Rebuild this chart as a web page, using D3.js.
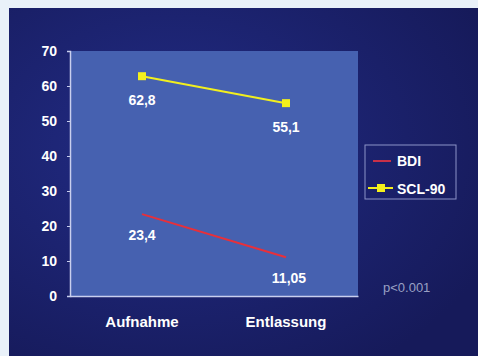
<!DOCTYPE html>
<html>
<head>
<meta charset="utf-8">
<script src="https://cdn.jsdelivr.net/npm/d3@7"></script>
<style>
  html, body { margin: 0; padding: 0; background: #e9f1f9; }
  svg { display: block; font-family: "Liberation Sans", Arial, sans-serif; }
</style>
</head>
<body>
<div id="chart"></div>
<script>
const categories = ['Aufnahme', 'Entlassung'];
const bdiValues = [23.4, 11.05];
const sclValues = [62.8, 55.1];
const bdiLabels = ['23,4', '11,05'];
const sclLabels = ['62,8', '55,1'];
const yTicks = [0, 10, 20, 30, 40, 50, 60, 70];

const w = 478;
const h = 356;

const svg = d3.select('#chart')
    .append('svg')
    .attr('width', w)
    .attr('height', h);

// light frame + dark slide background
svg.append('rect').attr('width', w).attr('height', h).attr('fill', '#e9f1f9');

const grad = svg.append('defs').append('radialGradient')
    .attr('id', 'bg').attr('cx', '35%').attr('cy', '40%').attr('r', '75%');
grad.append('stop').attr('offset', '0%').attr('stop-color', '#222c86');
grad.append('stop').attr('offset', '100%').attr('stop-color', '#161a5a');

svg.append('rect')
    .attr('x', 9).attr('y', 8)
    .attr('width', w - 9).attr('height', h - 8)
    .attr('fill', 'url(#bg)');

const plot = { left: 70, right: 358, top: 51, bottom: 296 };

const x = d3.scaleBand()
    .domain(categories)
    .range([plot.left, plot.right]);

const y = d3.scaleLinear()
    .domain([0, 70])
    .range([plot.bottom, plot.top]);

// plot area
svg.append('rect')
    .attr('x', plot.left).attr('y', plot.top)
    .attr('width', plot.right - plot.left).attr('height', plot.bottom - plot.top)
    .attr('fill', '#4661b0');

// axes
const yAxis = svg.append('g')
    .attr('transform', `translate(${plot.left},0)`)
    .call(d3.axisLeft(y).tickValues(yTicks).tickSize(3).tickPadding(10));
yAxis.select('.domain').attr('stroke', '#c9cfee').attr('stroke-width', 1.5);
yAxis.selectAll('.tick line').attr('stroke', '#c9cfee');
yAxis.selectAll('.tick text')
    .attr('fill', '#ffffff').attr('font-size', 14).attr('font-weight', 'bold')
    .attr('font-family', '"Liberation Sans", Arial, sans-serif');

const xAxis = svg.append('g')
    .attr('transform', `translate(0,${plot.bottom})`)
    .call(d3.axisBottom(x).tickSize(0).tickPadding(20));
xAxis.select('.domain').attr('stroke', '#c9cfee').attr('stroke-width', 1.5);
xAxis.selectAll('.tick text')
    .attr('fill', '#ffffff').attr('font-size', 15).attr('font-weight', 'bold')
    .attr('font-family', '"Liberation Sans", Arial, sans-serif');

const cx = (d) => x(d) + x.bandwidth() / 2;

const line = d3.line()
    .x((d) => cx(d.cat))
    .y((d) => y(d.v));

const bdi = categories.map((c, i) => ({ cat: c, v: bdiValues[i], label: bdiLabels[i] }));
const scl = categories.map((c, i) => ({ cat: c, v: sclValues[i], label: sclLabels[i] }));

// BDI line
svg.append('path')
    .datum(bdi)
    .attr('d', line)
    .attr('fill', 'none')
    .attr('stroke', '#e8303a')
    .attr('stroke-width', 2);

// SCL-90 line
svg.append('path')
    .datum(scl)
    .attr('d', line)
    .attr('fill', 'none')
    .attr('stroke', '#f2ef1e')
    .attr('stroke-width', 2);

svg.selectAll('.scl-pt')
    .data(scl)
    .enter()
    .append('rect')
    .attr('class', 'scl-pt')
    .attr('x', (d) => cx(d.cat) - 4)
    .attr('y', (d) => y(d.v) - 4)
    .attr('width', 8).attr('height', 8)
    .attr('fill', '#f4f01c');

// data labels
const labelStyle = (sel) => sel
    .attr('fill', '#ffffff')
    .attr('font-size', 14)
    .attr('font-weight', 'bold')
    .attr('text-anchor', 'middle');

svg.selectAll('.scl-lbl')
    .data(scl)
    .enter()
    .append('text')
    .attr('x', (d) => cx(d.cat))
    .attr('y', (d) => y(d.v) + 29)
    .text((d) => d.label)
    .call(labelStyle);

svg.selectAll('.bdi-lbl')
    .data(bdi)
    .enter()
    .append('text')
    .attr('x', (d, i) => cx(d.cat) + (i === 1 ? 3 : 0))
    .attr('y', (d) => y(d.v) + 26)
    .text((d) => d.label)
    .call(labelStyle);

// legend
const legend = svg.append('g').attr('transform', 'translate(365,145)');
legend.append('rect')
    .attr('width', 91).attr('height', 54)
    .attr('fill', 'none')
    .attr('stroke', '#8c93c8')
    .attr('stroke-width', 1);

legend.append('line')
    .attr('x1', 8).attr('x2', 26).attr('y1', 16).attr('y2', 16)
    .attr('stroke', '#c83048').attr('stroke-width', 2);
legend.append('text')
    .attr('x', 32).attr('y', 21)
    .text('BDI')
    .attr('fill', '#ffffff').attr('font-size', 14).attr('font-weight', 'bold');

legend.append('line')
    .attr('x1', 3).attr('x2', 28).attr('y1', 43).attr('y2', 43)
    .attr('stroke', '#f2ef1e').attr('stroke-width', 2);
legend.append('rect')
    .attr('x', 12).attr('y', 39).attr('width', 8).attr('height', 8)
    .attr('fill', '#f4f01c');
legend.append('text')
    .attr('x', 32).attr('y', 49)
    .text('SCL-90')
    .attr('fill', '#ffffff').attr('font-size', 14).attr('font-weight', 'bold');

// significance note
svg.append('text')
    .attr('x', 383).attr('y', 292)
    .text('p<0.001')
    .attr('fill', '#9aa0c4')
    .attr('font-size', 13);
</script>
</body>
</html>
